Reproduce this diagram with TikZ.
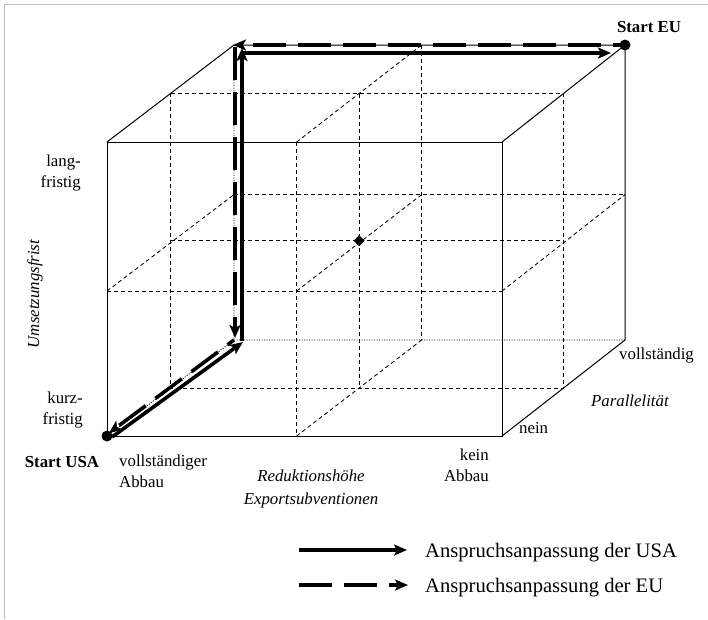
\documentclass[tikz,border=0pt]{standalone}
\usepackage{fontspec}
\setmainfont{Liberation Serif}
\usetikzlibrary{arrows.meta,positioning,calc,shapes.geometric}
\tikzset{
  edge/.style  = {line width=1pt},
  grid/.style  = {line width=0.85pt, dash pattern=on 4pt off 3pt},
  hidden/.style= {line width=0.9pt, dash pattern=on 1pt off 1.5pt},
  usa/.style   = {line width=3.6pt, -{Stealth[length=13pt,width=11pt,inset=3pt]}},
  eu/.style    = {usa, dash pattern=on 33pt off 12pt},
  dot/.style   = {circle, fill, inner sep=0pt, minimum size=11pt},
  ctrmark/.style = {diamond, fill, inner sep=0pt, minimum size=11pt},
  lbl/.style   = {font=\fontsize{16.8}{21}\selectfont, inner sep=0pt},
  axis/.style  = {lbl, font=\fontsize{16.8}{23}\selectfont\itshape, align=center},
  start/.style = {lbl, font=\fontsize{16.8}{21}\selectfont\bfseries},
  key/.style   = {font=\fontsize{20.6}{24}\selectfont, inner sep=0pt, anchor=base west}
}
\begin{document}
\begin{tikzpicture}[x=1pt,y=-1pt]
  \useasboundingbox (0,0) rectangle (708,619);
  \draw[black!25] (4,619) -- (4,4) -- (708,4);

  % ---- cube corners ----
  \coordinate (fbl) at (107,436);
  \coordinate (fbr) at (502,436);
  \coordinate (ftr) at (502,142);
  \coordinate (ftl) at (107,142);
  \coordinate (bbl) at (234,340);
  \coordinate (bbr) at (625,340);
  \coordinate (btr) at (625,45);
  \coordinate (btl) at (234,45);

  % ---- grid (middle planes) ----
  \coordinate (ft) at ($(ftl)!0.48!(ftr)$);
  \coordinate (fb) at ($(fbl)!0.48!(fbr)$);
  \coordinate (fl) at ($(ftl)!0.507!(fbl)$);
  \coordinate (fr) at ($(ftr)!0.507!(fbr)$);
  \coordinate (bt) at ($(btl)!0.48!(btr)$);
  \coordinate (bb) at ($(bbl)!0.48!(bbr)$);
  \coordinate (bl) at ($(btl)!0.507!(bbl)$);
  \coordinate (br) at ($(btr)!0.507!(bbr)$);
  \coordinate (mtl) at ($(ftl)!0.5!(btl)$);
  \coordinate (mtr) at ($(ftr)!0.5!(btr)$);
  \coordinate (mbl) at ($(fbl)!0.5!(bbl)$);
  \coordinate (mbr) at ($(fbr)!0.5!(bbr)$);
  \coordinate (mt) at ($(mtl)!0.48!(mtr)$);
  \coordinate (mb) at ($(mbl)!0.48!(mbr)$);
  \coordinate (ml) at ($(mtl)!0.5!(mbl)$);
  \coordinate (mr) at ($(mtr)!0.5!(mbr)$);
  \coordinate (fc) at (ft |- fl);
  \coordinate (bc) at (bt |- bl);

  \draw[grid] (ft) -- (fb) (fl) -- (fr);
  \draw[grid] (bt) -- (bb) (bl) -- (br);
  \draw[grid] (mtl) -- (mtr) -- (mbr) -- (mbl) -- cycle;
  \draw[grid] (mt) -- (mb) (ml) -- (mr);
  \draw[grid] (ft) -- (bt) (fb) -- (bb) (fl) -- (bl) (fr) -- (br) (fc) -- (bc);
  \draw[hidden] (btl) -- (bbl) -- (bbr) (fbl) -- (bbl);

  % ---- cube edges ----
  \draw[edge] (fbl) -- (fbr) -- (ftr) -- (ftl) -- cycle;
  \draw[edge] (ftl) -- (btl) -- (btr) -- (ftr);
  \draw[edge] (btr) -- (bbr) -- (fbr);
  \node[ctrmark] (ctr) at (mt |- ml) {};

  % ---- paths ----
  \coordinate (u0) at (112,437);
  \coordinate (u1) at (243,342);
  \coordinate (u2) at (242,341);
  \coordinate (u3) at (242,48);
  \coordinate (u4) at (240.5,53);
  \coordinate (u5) at (611,53);
  \draw[usa] (u0) -- (u1);
  \draw[usa] (u2) -- (u3);
  \draw[usa] (u4) -- (u5);

  \coordinate (e0) at (620,45);
  \coordinate (e1) at (233,45);
  \coordinate (e2) at (235,47);
  \coordinate (e3) at (235,338);
  \coordinate (e4) at (234,340);
  \coordinate (e5) at (109,433);
  \draw[eu, dash phase=26pt] (e0) -- (e1);
  \draw[eu] (e2) -- (e3);
  \draw[eu, dash phase=25pt] (e4) -- (e5);

  \node[dot] (usa) at (fbl) {};
  \node[dot] (eu) at (btr) {};

  % ---- labels ----
  \node[start] (susa) at (62,462) {Start USA};
  \node[start] (seu) at (649,27) {Start EU};
  \node[lbl, align=left, anchor=base west] (voll) at (119,487) {vollständiger\\Abbau};
  \node[lbl, align=right, anchor=base east] (kein) at (489,481) {kein\\Abbau};
  \node[axis, anchor=base] (red) at (311,504) {Reduktionshöhe\\Exportsubventionen};
  \node[lbl, anchor=base west] (nein) at (519,433) {nein};
  \node[axis, anchor=base west] (par) at (591,406) {Parallelität};
  \node[lbl, anchor=base west] (vollst) at (619,359) {vollständig};
  \node[lbl, align=right, anchor=base east] (lang) at (81,187) {lang-\\fristig};
  \node[lbl, align=right, anchor=base east] (kurz) at (83,424) {kurz-\\fristig};
  \node[axis, rotate=90] (ums) at (35,294) {Umsetzungsfrist};

  % ---- legend ----
  \coordinate (ka) at (299,550);
  \coordinate (kb) at (407,550);
  \coordinate (kc) at (299,585);
  \coordinate (kd) at (408,585);
  \draw[usa] (ka) -- (kb);
  \draw[eu] (kc) -- (kd);
  \node[key] (kusa) at (425,557) {Anspruchsanpassung der USA};
  \node[key] (keu) at (425,592) {Anspruchsanpassung der EU};
\end{tikzpicture}
\end{document}
